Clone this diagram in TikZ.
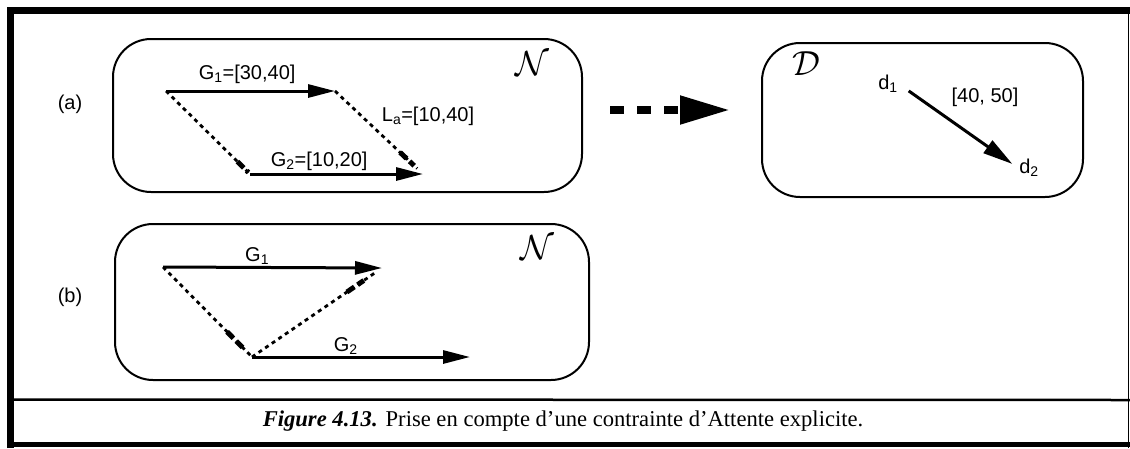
\documentclass[tikz,border=0pt]{standalone}
\usepackage{fontspec}
\setmainfont{Liberation Serif}
\newfontfamily\labelfont{Liberation Sans}
\usetikzlibrary{arrows.meta, positioning, calc}
\newcommand{\calname}[1]{\scalebox{1.4}{$\mathcal{#1}$}}

\begin{document}
\begin{tikzpicture}[x=1pt, y=-1pt,
      netbox/.style={rectangle, draw, rounded corners=38pt, line width=2pt},
      lbl/.style={font=\labelfont\fontsize{20}{23}\selectfont, inner sep=1pt},
      cal/.style={font=\fontsize{24}{28}\selectfont, inner sep=0pt},
      arr/.style={-{Triangle[length=27pt, width=13pt]}, line width=3pt},
      wait/.style={line width=2.8pt, dash pattern=on 4pt off 4pt},
      waitmark/.style={line width=5pt, dash pattern=on 9pt off 4pt},
      bigarr/.style={-{Triangle[length=50pt, width=27pt]}, line width=8pt, dash pattern=on 14pt off 13pt}
    ]
      \useasboundingbox (0,0) rectangle (1130,448);

      \draw[line width=7pt] (10.5,448) -- (10.5,10.5) -- (1130,10.5);
      \draw[line width=1.5pt] (1128.5,7) -- (1128.5,448);
      \draw[line width=5pt] (7,444.5) -- (1130,444.5);
      \draw[line width=2.5pt] (14,399.5) -- (1130,400);

      \node[netbox, minimum width=469pt, minimum height=153pt] (Na) at (347.5,115.5) {};
      \node[netbox, minimum width=321pt, minimum height=154pt] (D) at (922.5,120) {};
      \node[netbox, minimum width=474pt, minimum height=156pt] (Nb) at (352,302) {};

      \node[lbl] (la) at (70,104) {(a)};
      \node[lbl] (lb) at (70,297) {(b)};
      \node[cal] (NaT) at (532,64) {\calname{N}};
      \node[cal] (DT) at (806,64) {\calname{D}};
      \node[cal] (NbT) at (537,248) {\calname{N}};

      \coordinate (a1) at (166,91);
      \coordinate (a2) at (335,91);
      \coordinate (a3) at (250,174);
      \coordinate (a4) at (423,174);
      \draw[arr] (a1) -- node[lbl, above=5pt, pos=0.48] (G1a) {G\textsubscript{1}=[30,40]} (a2);
      \draw[arr] (a3) -- node[lbl, above=1pt, pos=0.4] (G2a) {G\textsubscript{2}=[10,20]} (a4);
      \draw[wait] (a1) -- (a3);
      \draw[wait, shorten >=8pt] (a2) -- (a4);
      \draw[waitmark] ($(a1)!0.85!(a3)$) -- ($(a1)!0.98!(a3)$);
      \draw[waitmark] ($(a2)!0.74!(a4)$) -- ($(a2)!0.9!(a4)$);
      \node[lbl] (La) at (428,116) {L\textsubscript{a}=[10,40]};

      \coordinate (b1) at (163,267);
      \coordinate (b2) at (382,268);
      \coordinate (b3) at (252,357);
      \coordinate (b4) at (470,357);
      \draw[arr] (b1) -- node[lbl, above=0pt, pos=0.43] (G1b) {G\textsubscript{1}} (b2);
      \draw[arr] (b3) -- node[lbl, above=0pt, pos=0.43] (G2b) {G\textsubscript{2}} (b4);
      \draw[wait] (b1) -- (b3);
      \draw[wait, shorten >=6pt] (b3) -- (b2);
      \draw[waitmark] ($(b1)!0.72!(b3)$) -- ($(b1)!0.92!(b3)$);
      \draw[waitmark] ($(b3)!0.73!(b2)$) -- ($(b3)!0.86!(b2)$);

      \draw[bigarr, shorten <=27pt, shorten >=31pt] ([yshift=5.5pt]Na.east) -- ([yshift=10pt]D.west);

      \node[lbl] (d1) at (888,84) {d\textsubscript{1}};
      \node[lbl] (d2) at (1029,168) {d\textsubscript{2}};
      \node[lbl] (dl) at (985,97) {[40, 50]};
      \draw[arr, -{Triangle[length=30pt, width=15pt]}, shorten <=12pt, shorten >=7pt] (d1.east) -- (d2.west);

      \node[font=\fontsize{22.6}{26}\selectfont] (cap) at (563,421) {\textbf{\textit{Figure 4.13.}}\hspace{8pt}Prise en compte d’une contrainte d’Attente explicite.};
    \end{tikzpicture}
\end{document}
